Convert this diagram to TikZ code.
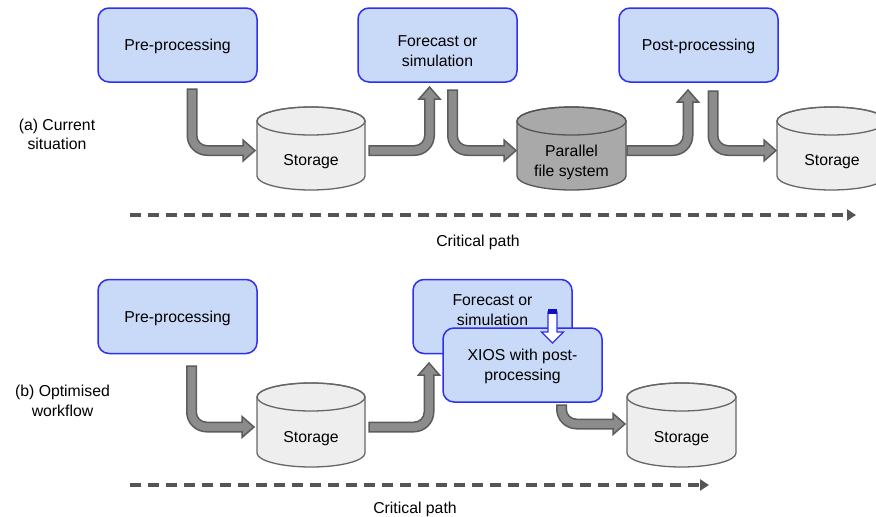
\documentclass[tikz,border=0pt]{standalone}
\usepackage{fontspec}
\setmainfont{Liberation Sans}
\usetikzlibrary{arrows.meta,calc}
\definecolor{boxfill}{HTML}{C9DAF8}
\definecolor{boxblue}{HTML}{2F2FF0}
\definecolor{cylfill}{HTML}{EEEEEE}
\definecolor{cyldraw}{HTML}{666666}
\definecolor{pfsfill}{HTML}{A9A9A9}
\definecolor{pfsdraw}{HTML}{555555}
\definecolor{arrfill}{HTML}{8C8C8C}
\definecolor{arrdraw}{HTML}{5C5C5C}
\definecolor{dashcol}{HTML}{555555}
\definecolor{barblue}{HTML}{1010C0}
\tikzset{
  box/.style={draw=boxblue, fill=boxfill, rounded corners=11pt, line width=1.5pt,
    minimum width=159pt, minimum height=74pt, inner sep=0pt, align=center,
    text depth=-2pt, font=\fontsize{15.8}{19.5}\selectfont},
  txt/.style={inner sep=0pt, align=center, font=\fontsize{15.8}{19.5}\selectfont},
  blockarrow/.style={fill=arrfill, draw=arrdraw, line width=1.5pt, line join=miter},
  critpath/.style={draw=dashcol, line width=3.5pt, dash pattern=on 11pt off 7pt,
    -{Triangle[length=9pt,width=11pt]}},
}
% down then right block arrow: x0 y0 yc xt
\newcommand{\arrDR}[4]{%
  \draw[blockarrow] (#1-4.75,#2) -- (#1-4.75,#3-15)
    arc[start angle=180,end angle=90,radius=19.75]
    -- (#4-12,#3+4.75) -- (#4-12,#3+10.5) -- (#4,#3) -- (#4-12,#3-10.5)
    -- (#4-12,#3-4.75) -- (#1+15,#3-4.75)
    arc[start angle=90,end angle=180,radius=10.25]
    -- (#1+4.75,#2) -- cycle;}
% right then up block arrow: x0 yc xc yt
\newcommand{\arrRU}[4]{%
  \draw[blockarrow] (#1,#2+4.75) -- (#3-15,#2+4.75)
    arc[start angle=90,end angle=0,radius=19.75]
    -- (#3+4.75,#4+12) -- (#3+10.5,#4+12) -- (#3,#4) -- (#3-10.5,#4+12)
    -- (#3-4.75,#4+12) -- (#3-4.75,#2-15)
    arc[start angle=0,end angle=90,radius=10.25]
    -- (#1,#2-4.75) -- cycle;}
% cylinder: x1 x2 ytop ybot fill draw
\newcommand{\cylshape}[6]{%
  \pgfmathsetmacro\cxa{(#2-#1)/2}\pgfmathsetmacro\cxm{(#1+#2)/2}%
  \pgfmathsetmacro\cyt{#3+14}\pgfmathsetmacro\cyb{#4-14}%
  \draw[fill=#5,draw=#6,line width=1.3pt] (#1,\cyt) -- (#1,\cyb)
    arc[start angle=180,end angle=0,x radius=\cxa,y radius=14]
    -- (#2,\cyt) arc[start angle=0,end angle=-180,x radius=\cxa,y radius=14] -- cycle;
  \draw[draw=#6,line width=1.3pt] (\cxm,\cyt) ellipse[x radius=\cxa,y radius=14];}
\begin{document}
\begin{tikzpicture}[x=1pt,y=-1pt]
\useasboundingbox (0,0) rectangle (876,517);
% ---------- (a) current situation ----------
\node[txt] (lbla) at (57,134.5) {(a) Current\\situation};
\node[box] (prea) at (177.5,45) {Pre-processing};
\node[box] (fca) at (437.5,45) {};
\node[txt] (fcat) at (437.5,51) {Forecast or\\simulation};
\node[box] (posta) at (698.5,45) {Post-processing};
\cylshape{257}{365}{107}{190}{cylfill}{cyldraw}
\node[txt] (sta1) at (311,161.5) {Storage};
\cylshape{517}{626}{107}{190}{pfsfill}{pfsdraw}
\node[txt] (pfs) at (571.5,162.5) {Parallel\\file system};
\cylshape{777}{886}{107}{190}{cylfill}{cyldraw}
\node[txt] (sta2) at (832,161.5) {Storage};
\arrDR{192}{89}{150.5}{255}
\arrRU{369}{150.5}{429.5}{87}
\arrDR{452.5}{90}{150.5}{516}
\arrRU{627}{150.5}{688}{90}
\arrDR{713}{91}{150.5}{776}
\coordinate (cpas) at (130,215);
\coordinate (cpae) at (856,215);
\draw[critpath] (cpas) -- (cpae);
\node[txt] (cpa) at (478,242) {Critical path};
% ---------- (b) optimised workflow ----------
\node[txt] (lblb) at (62.5,401) {(b) Optimised\\workflow};
\node[box] (preb) at (177.5,316.5) {Pre-processing};
\node[box] (fcb) at (492.5,316.5) {};
\node[txt] (fcbt) at (492.5,310) {Forecast or\\simulation};
\node[box] (xios) at (522.5,365) {XIOS with post-\\processing};
\draw[fill=white,draw=boxblue,line width=1.2pt] (548,312) -- (548,332) -- (541.5,332)
  -- (552.5,343) -- (563.5,332) -- (557,332) -- (557,312) -- cycle;
\fill[barblue] (548,309) rectangle (557,313.5);
\cylshape{257}{365}{383}{467}{cylfill}{cyldraw}
\node[txt] (stb1) at (311,438.5) {Storage};
\cylshape{627}{736}{383}{467}{cylfill}{cyldraw}
\node[txt] (stb2) at (681.5,438.5) {Storage};
\arrDR{191.5}{366}{427}{254}
\arrRU{369}{427}{429}{363}
\arrDR{561.5}{405}{424}{625}
\coordinate (cpbs) at (130,485);
\coordinate (cpbe) at (709,485);
\draw[critpath] (cpbs) -- (cpbe);
\node[txt] (cpb) at (415,509) {Critical path};
\end{tikzpicture}
\end{document}
